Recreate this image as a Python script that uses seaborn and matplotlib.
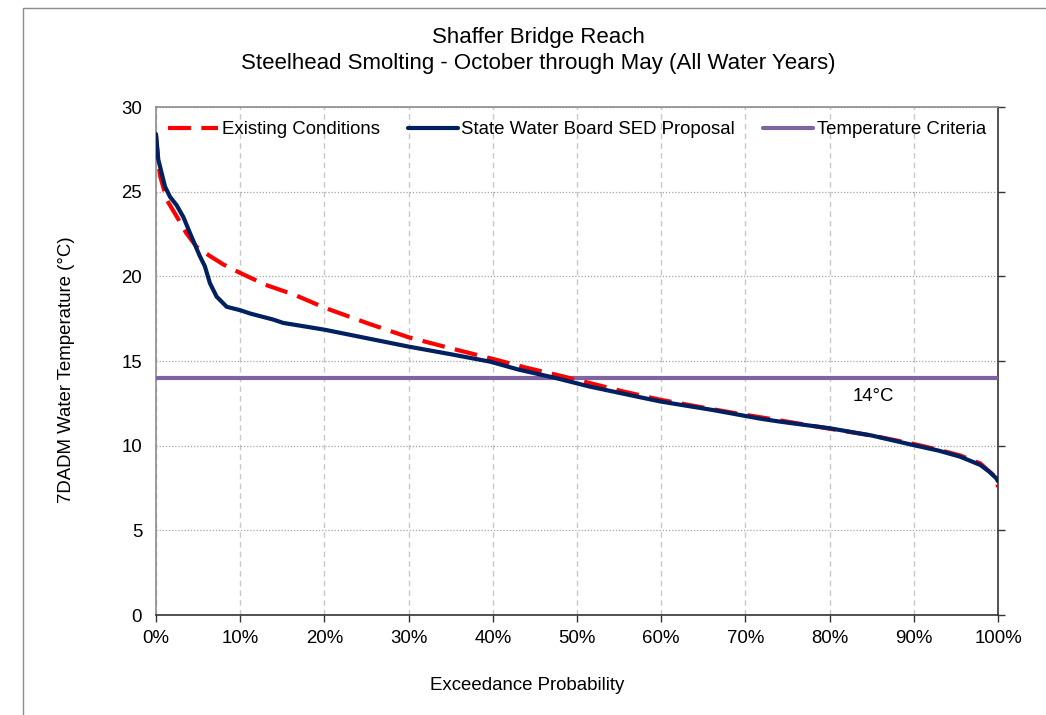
import matplotlib
matplotlib.use("Agg")
import matplotlib.pyplot as plt
from matplotlib.lines import Line2D
from matplotlib.patches import Rectangle
from matplotlib.ticker import PercentFormatter
import seaborn as sns
import pandas as pd

# Exceedance probability (%) and 7DADM water temperature (°C) for each scenario
p_existing = [0, 0.3, 0.5, 1.3, 2.5, 3.6, 4.8, 6.4, 8.0, 10, 13, 16.5, 20, 25, 30, 35,
              40.5, 44, 47.6, 51.5, 55.5, 60, 65, 69, 74, 80, 85, 90, 93, 95.5, 97.9,
              99.8, 100]
t_existing = [28.3, 26.6, 25.9, 24.5, 23.5, 22.55, 21.75, 21.2, 20.7, 20.2, 19.5, 18.9,
              18.15, 17.25, 16.4, 15.75, 15.06, 14.6, 14.18, 13.7, 13.2, 12.7, 12.25,
              11.9, 11.5, 11.0, 10.6, 10.1, 9.75, 9.42, 8.95, 8.1, 7.55]

p_sed = [0, 0.27, 1.07, 1.66, 2.45, 3.25, 4.0, 5.2, 5.8, 6.4, 7.2, 8.4, 10, 11.2, 13.9,
         15.1, 20, 25, 30, 35, 39.7, 43, 47.6, 51.5, 57.1, 60, 66.2, 71.7, 74.1, 80, 85,
         89.9, 93, 95.5, 97.9, 99, 99.8, 100]
t_sed = [28.4, 26.9, 25.3, 24.7, 24.2, 23.5, 22.6, 21.2, 20.6, 19.6, 18.8, 18.2, 18.0,
         17.8, 17.45, 17.25, 16.85, 16.35, 15.85, 15.4, 14.96, 14.5, 13.98, 13.49, 12.9,
         12.6, 12.1, 11.6, 11.42, 11.03, 10.6, 10.04, 9.7, 9.35, 8.86, 8.45, 8.07, 7.9]

criteria_temp = 14
criteria_p = [0, 100]

label_existing = "Existing Conditions"
label_sed = "State Water Board SED Proposal"
label_criteria = "Temperature Criteria"

sns.set_style("white")
plt.rcParams["font.family"] = ["Liberation Sans", "DejaVu Sans"]
plt.rcParams["text.color"] = "black"
plt.rcParams["xtick.color"] = "black"
plt.rcParams["ytick.color"] = "black"
plt.rcParams["axes.labelcolor"] = "black"

df_existing = pd.DataFrame({"p": p_existing, "t": t_existing})
df_sed = pd.DataFrame({"p": p_sed, "t": t_sed})
df_crit = pd.DataFrame({"p": criteria_p, "t": [criteria_temp] * len(criteria_p)})

red = "#FF0000"
navy = "#002060"
purple = "#8064A2"
dash = (0, (5.5, 2.5))
fs = 13.4

fig = plt.figure(figsize=(10.46, 7.15), dpi=100)
ax = fig.add_axes([156 / 1046, 100 / 715, 842 / 1046, 508 / 715])

# outer chart frame
fig.patches.append(Rectangle((23 / 1046, -0.05), 1.2, (707 / 715) + 0.05,
                             transform=fig.transFigure, fill=False,
                             edgecolor="#8C8C8C", linewidth=1.0))

sns.lineplot(data=df_crit, x="p", y="t", ax=ax, color=purple, linewidth=3.0,
             zorder=3)
sns.lineplot(data=df_existing, x="p", y="t", ax=ax, color=red, linewidth=3.0,
             linestyle=dash, zorder=4, sort=False)
sns.lineplot(data=df_sed, x="p", y="t", ax=ax, color=navy, linewidth=3.0,
             zorder=5, sort=False)

ax.set_xlim(0, 100)
ax.set_ylim(0, 30)
ax.set_xticks(range(0, 101, 10))
ax.set_yticks(range(0, 31, 5))
ax.xaxis.set_major_formatter(PercentFormatter(decimals=0))

ax.grid(axis="y", color="#A6A6A6", linestyle=(0, (1, 1.5)), linewidth=0.9)
ax.grid(axis="x", color="#C8C8C8", linestyle=(0, (4, 3)), linewidth=1.0)
ax.set_axisbelow(True)

for side in ("left", "top"):
    ax.spines[side].set_color("#8C8C8C")
    ax.spines[side].set_linewidth(1.2)
for side in ("right", "bottom"):
    ax.spines[side].set_color("#333333")
    ax.spines[side].set_linewidth(1.2)

ax.tick_params(axis="y", left=False, right=True, labelleft=True, labelright=False,
               direction="out", length=5, width=1, color="#333333",
               labelsize=fs, pad=5)
ax.tick_params(axis="x", bottom=True, direction="out", length=5, width=1,
               color="#333333", labelsize=fs, pad=6)

ax.set_xlabel("")
ax.set_ylabel("")
fig.text(527 / 1046, 1 - 686 / 715, "Exceedance Probability", ha="center",
         va="center", fontsize=fs)
fig.text(67 / 1046, 1 - 370 / 715, "7DADM Water Temperature (°C)", ha="center",
         va="center", rotation=90, fontsize=fs)

fig.text(538 / 1046, 1 - 37 / 715, "Shaffer Bridge Reach", ha="center", va="center",
         fontsize=16)
fig.text(538 / 1046, 1 - 63 / 715,
         "Steelhead Smolting - October through May (All Water Years)",
         ha="center", va="center", fontsize=16)

ax.text(85.2, 12.9, f"{criteria_temp}°C", ha="center", va="center", fontsize=fs)

handles = [
    Line2D([], [], color=red, linewidth=3.0, linestyle=dash),
    Line2D([], [], color=navy, linewidth=3.0),
    Line2D([], [], color=purple, linewidth=3.0),
]
ax.legend(handles, [label_existing, label_sed, label_criteria], ncol=3,
          loc="center", bbox_to_anchor=(0.5, 0.955), frameon=False,
          fontsize=fs, handlelength=2.7, handletextpad=0.2, columnspacing=1.5)

fig.savefig("out.png", dpi=100)
